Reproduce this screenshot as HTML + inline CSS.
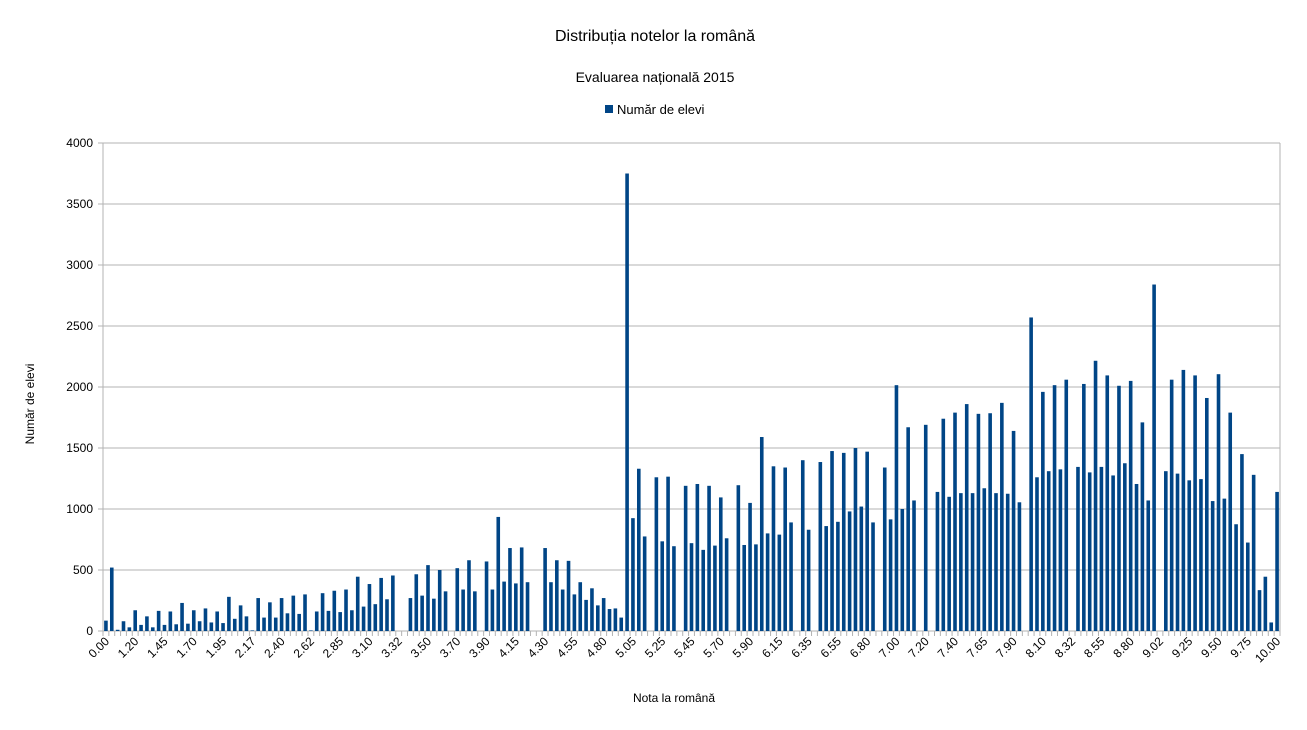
<!DOCTYPE html>
<html><head><meta charset="utf-8"><style>
body{margin:0;background:#fff;width:1307px;height:725px;overflow:hidden;font-family:"Liberation Sans",sans-serif}
</style></head><body>
<svg id="s" width="1307" height="725" xmlns="http://www.w3.org/2000/svg" font-family="Liberation Sans, sans-serif">
<text x="655" y="41" font-size="16" text-anchor="middle" fill="#000">Distribuția notelor la română</text>
<text x="655" y="82" font-size="14" text-anchor="middle" fill="#000">Evaluarea națională 2015</text>
<rect x="605" y="105" width="8" height="8" fill="#004586"/>
<text x="617" y="114" font-size="13" fill="#000">Număr de elevi</text>
<text x="34" y="404" font-size="12" text-anchor="middle" transform="rotate(-90 34 404)">Număr de elevi</text>
<text x="674" y="702" font-size="12" text-anchor="middle">Nota la română</text>
<g id="g"></g>
</svg>
<script>
var S='http://www.w3.org/2000/svg',g=document.getElementById('g');
function el(t,a,txt){var e=document.createElementNS(S,t);for(var k in a)e.setAttribute(k,a[k]);if(txt!=null)e.textContent=txt;g.appendChild(e);return e;}
var L=103,R=1280,T=143,B=631,N=201,w=(R-L)/N;
for(var v=0;v<=4000;v+=500){var y=B-(B-T)*v/4000;el('line',{x1:L-5,x2:R,y1:y,y2:y,stroke:'#b3b3b3','stroke-width':1});el('text',{x:93,y:y+4,'font-size':12,'text-anchor':'end'},v);}
el('line',{x1:L,x2:L,y1:T,y2:B+5,stroke:'#b3b3b3'});el('line',{x1:R,x2:R,y1:T,y2:B+5,stroke:'#b3b3b3'});
for(var i=0;i<=N;i++){var x=L+i*w;el('line',{x1:x,x2:x,y1:B,y2:B+5,stroke:'#b3b3b3'});}
var d=[[105,85],[111,520],[117,10],[123,80],[129,30],[135,170],[141,50],[147,120],[152,30],[158,165],[164,50],[170,160],[176,55],[182,230],[188,60],[194,170],[200,80],[205,185],[211,70],[217,160],[223,65],[229,280],[235,100],[240,210],[246,120],[252,5],[258,270],[264,110],[270,235],[276,110],[281,270],[287,145],[293,290],[299,140],[305,300],[311,5],[317,160],[322,310],[328,165],[334,330],[340,155],[346,340],[352,170],[358,445],[364,200],[369,385],[375,220],[381,435],[387,260],[393,455],[410,270],[416,465],[422,290],[428,540],[434,265],[440,500],[446,325],[457,515],[463,340],[469,580],[475,325],[487,570],[493,340],[498,935],[504,405],[510,680],[516,390],[522,685],[528,400],[545,680],[551,400],[557,580],[563,340],[569,575],[575,300],[581,400],[586,255],[592,350],[598,210],[604,270],[610,180],[616,185],[622,110],[627,3750],[633,925],[639,1330],[645,775],[657,1260],[662,735],[668,1265],[674,695],[686,1190],[692,720],[698,1205],[703,665],[709,1190],[715,700],[721,1095],[727,760],[739,1195],[745,705],[750,1050],[756,710],[762,1590],[768,800],[774,1350],[780,790],[786,1340],[791,890],[803,1400],[809,830],[821,1385],[827,860],[833,1475],[838,895],[844,1460],[850,980],[856,1500],[862,1020],[868,1470],[874,890],[885,1340],[891,915],[897,2015],[903,1000],[909,1670],[915,1070],[926,1690],[938,1140],[944,1740],[950,1100],[956,1790],[962,1130],[967,1860],[973,1130],[979,1780],[985,1170],[991,1785],[997,1130],[1003,1870],[1008,1125],[1014,1640],[1020,1055],[1032,2570],[1038,1260],[1044,1960],[1050,1310],[1055,2015],[1061,1325],[1067,2060],[1079,1345],[1085,2025],[1091,1300],[1096,2215],[1102,1345],[1108,2095],[1114,1275],[1120,2010],[1126,1375],[1132,2050],[1137,1205],[1143,1710],[1149,1070],[1155,2840],[1167,1310],[1173,2060],[1178,1290],[1184,2140],[1190,1235],[1196,2095],[1202,1245],[1208,1910],[1214,1065],[1220,2105],[1225,1085],[1231,1790],[1237,875],[1243,1450],[1249,725],[1255,1280],[1261,335],[1267,445],[1272,70],[1278,1140]];
d.forEach(function(p){var i=Math.round((p[0]-L)/w-0.5);var cx=L+(i+0.5)*w;var h=(B-T)*p[1]/4000;el('rect',{x:cx-1.8,y:B-h,width:3.6,height:h,fill:'#004586'});});
var labs="0.00 1.20 1.45 1.70 1.95 2.17 2.40 2.62 2.85 3.10 3.32 3.50 3.70 3.90 4.15 4.30 4.55 4.80 5.05 5.25 5.45 5.70 5.90 6.15 6.35 6.55 6.80 7.00 7.20 7.40 7.65 7.90 8.10 8.32 8.55 8.80 9.02 9.25 9.50 9.75 10.00".split(' ');
labs.forEach(function(t,k){var cx=L+(5*k+0.5)*w+4,y=642;el('text',{x:cx,y:y,'font-size':12,'text-anchor':'end',transform:'rotate(-45 '+cx+' '+y+')'},t);});
</script>
</body></html>
